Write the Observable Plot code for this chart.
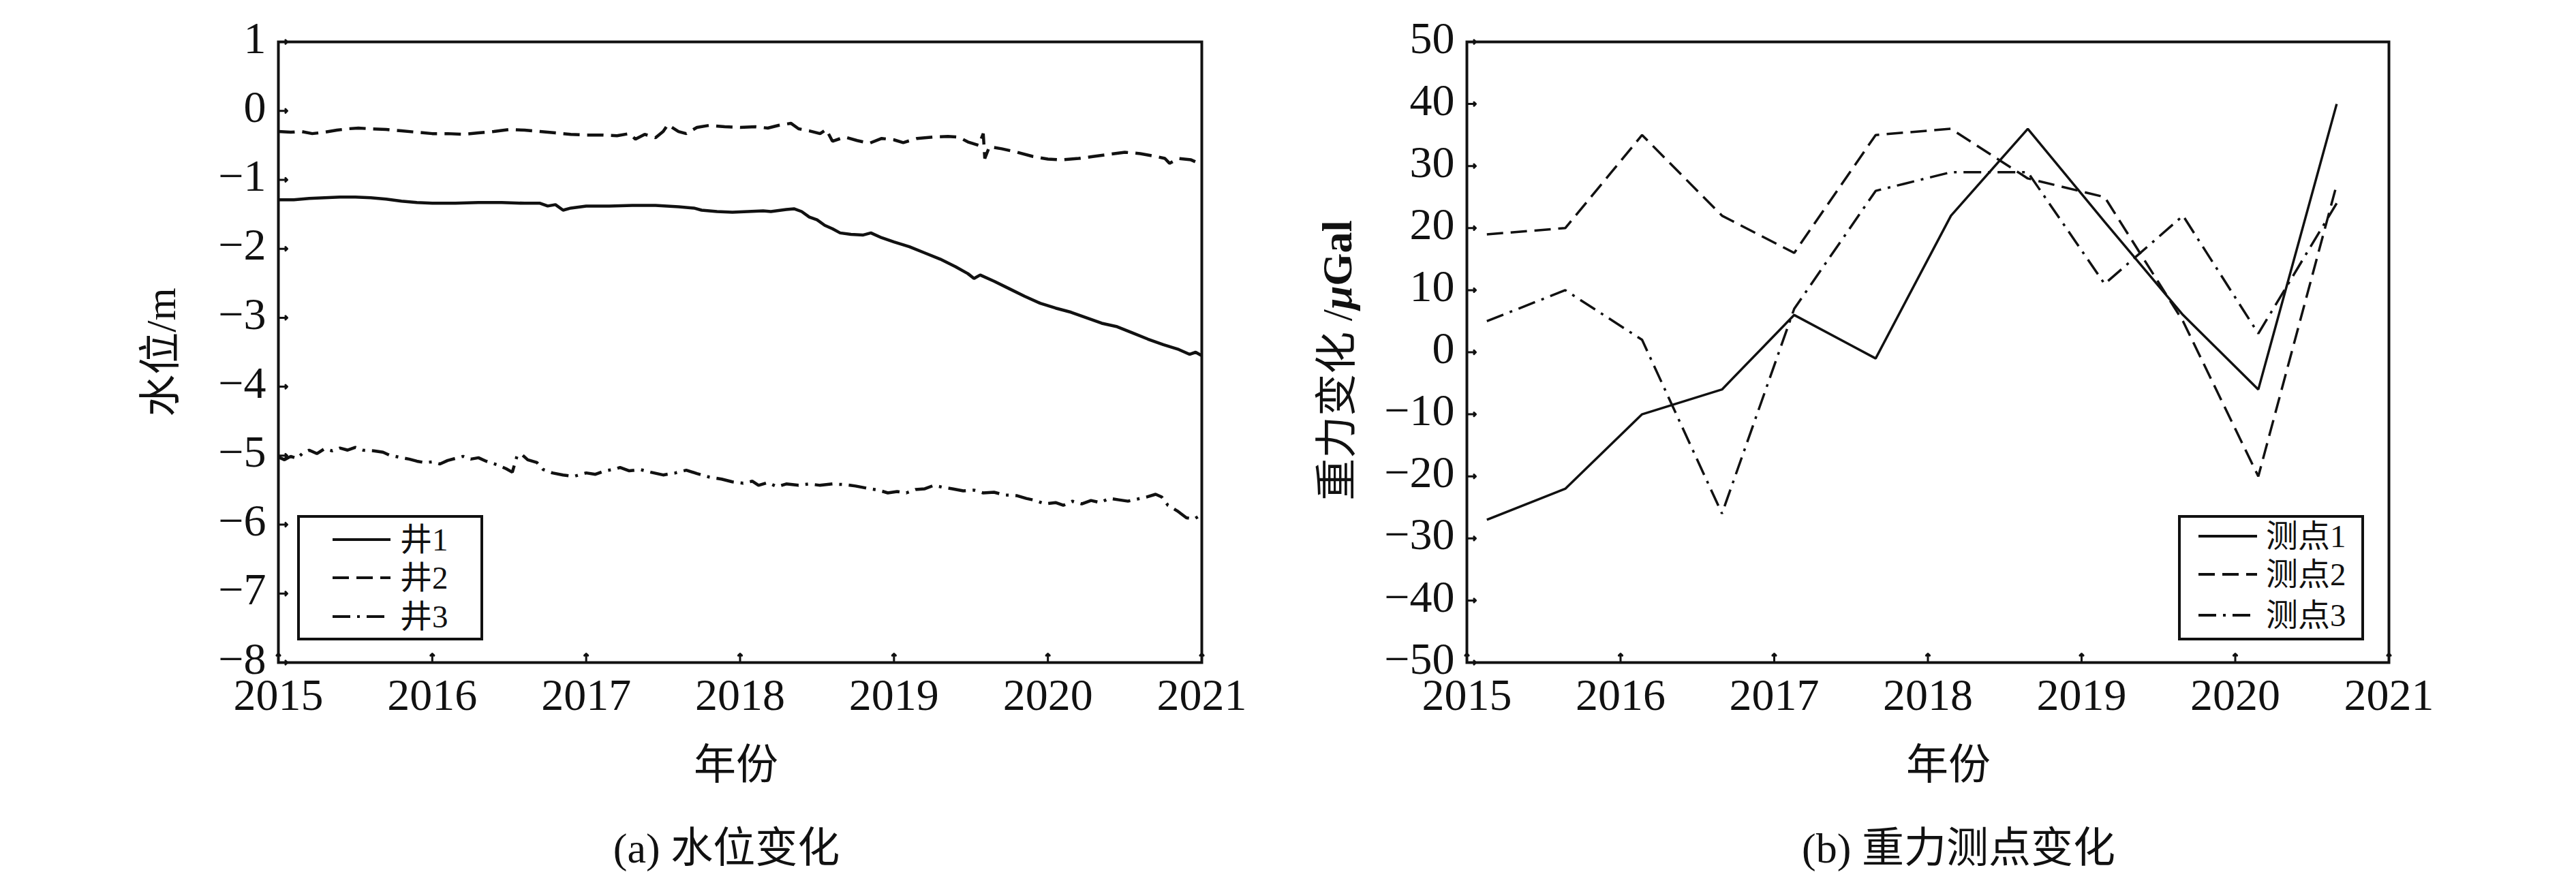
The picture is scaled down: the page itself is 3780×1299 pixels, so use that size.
<!DOCTYPE html>
<html><head><meta charset="utf-8">
<script src="https://cdn.jsdelivr.net/npm/d3@7"></script>
<script src="https://cdn.jsdelivr.net/npm/@observablehq/plot@0.6"></script>
<style>
body{margin:0;background:#fff;width:3780px;height:1299px;position:relative;overflow:hidden;font-family:"Liberation Serif","Noto Sans CJK SC",serif;color:#111;}
.panel{position:absolute;top:0;}
.caption{position:absolute;font-size:62px;white-space:nowrap;transform:translate(-50%,-50%);line-height:1;}
.legend{position:absolute;}
</style></head><body>
<div id="a" class="panel" style="left:0"></div>
<div id="b" class="panel" style="left:1890px"></div>
<div class="caption" style="left:1066px;top:1245px">(a) 水位变化</div>
<div class="caption" style="left:2874px;top:1245px">(b) 重力测点变化</div>
<script>
// ---------- data ----------
const years = [2015, 2016, 2017, 2018, 2019, 2020, 2021];
const levelTicks = [1, 0, -1, -2, -3, -4, -5, -6, -7, -8];
const gravityTicks = [50, 40, 30, 20, 10, 0, -10, -20, -30, -40, -50];
const wellNames = ["井1", "井2", "井3"];
const pointNames = ["测点1", "测点2", "测点3"];

// water level (m), [decimal year, level]
const well1 = [[2015.00,-1.29],[2015.10,-1.29],[2015.20,-1.27],[2015.30,-1.26],[2015.40,-1.25],[2015.50,-1.25],[2015.60,-1.26],[2015.70,-1.28],[2015.80,-1.31],[2015.90,-1.33],[2016.00,-1.34],[2016.15,-1.34],[2016.30,-1.33],[2016.45,-1.33],[2016.60,-1.34],[2016.70,-1.34],[2016.75,-1.38],[2016.80,-1.36],[2016.85,-1.44],[2016.90,-1.41],[2017.00,-1.38],[2017.15,-1.38],[2017.30,-1.37],[2017.45,-1.37],[2017.60,-1.39],[2017.70,-1.41],[2017.75,-1.44],[2017.85,-1.46],[2017.95,-1.47],[2018.05,-1.46],[2018.15,-1.45],[2018.20,-1.46],[2018.30,-1.43],[2018.35,-1.42],[2018.40,-1.46],[2018.45,-1.54],[2018.50,-1.58],[2018.55,-1.66],[2018.60,-1.71],[2018.65,-1.77],[2018.72,-1.79],[2018.80,-1.80],[2018.85,-1.77],[2018.92,-1.84],[2019.00,-1.90],[2019.10,-1.97],[2019.20,-2.06],[2019.30,-2.15],[2019.40,-2.26],[2019.48,-2.36],[2019.52,-2.43],[2019.56,-2.38],[2019.65,-2.47],[2019.75,-2.58],[2019.85,-2.69],[2019.95,-2.79],[2020.05,-2.86],[2020.15,-2.92],[2020.25,-3.00],[2020.35,-3.08],[2020.45,-3.13],[2020.55,-3.22],[2020.65,-3.31],[2020.75,-3.39],[2020.85,-3.46],[2020.92,-3.53],[2020.96,-3.50],[2021.00,-3.55]];
const well2 = [[2015.00,-0.30],[2015.08,-0.31],[2015.15,-0.30],[2015.22,-0.33],[2015.30,-0.31],[2015.38,-0.28],[2015.45,-0.26],[2015.52,-0.25],[2015.60,-0.26],[2015.70,-0.27],[2015.80,-0.29],[2015.90,-0.31],[2016.00,-0.33],[2016.10,-0.33],[2016.20,-0.34],[2016.30,-0.32],[2016.40,-0.30],[2016.50,-0.27],[2016.60,-0.28],[2016.70,-0.30],[2016.80,-0.32],[2016.90,-0.34],[2017.00,-0.35],[2017.10,-0.35],[2017.20,-0.36],[2017.28,-0.33],[2017.32,-0.41],[2017.38,-0.34],[2017.45,-0.39],[2017.50,-0.30],[2017.53,-0.20],[2017.60,-0.30],[2017.65,-0.33],[2017.72,-0.24],[2017.80,-0.21],[2017.90,-0.23],[2018.00,-0.24],[2018.10,-0.23],[2018.18,-0.25],[2018.25,-0.21],[2018.33,-0.18],[2018.38,-0.26],[2018.45,-0.29],[2018.52,-0.33],[2018.56,-0.27],[2018.60,-0.44],[2018.68,-0.38],[2018.76,-0.43],[2018.84,-0.47],[2018.92,-0.40],[2019.00,-0.42],[2019.06,-0.46],[2019.15,-0.40],[2019.25,-0.38],[2019.35,-0.37],[2019.42,-0.38],[2019.48,-0.45],[2019.55,-0.50],[2019.58,-0.33],[2019.59,-0.69],[2019.62,-0.52],[2019.70,-0.55],[2019.80,-0.60],[2019.90,-0.66],[2020.00,-0.70],[2020.08,-0.71],[2020.20,-0.69],[2020.30,-0.66],[2020.40,-0.63],[2020.50,-0.60],[2020.60,-0.62],[2020.70,-0.66],[2020.76,-0.69],[2020.79,-0.76],[2020.85,-0.69],[2020.93,-0.71],[2021.00,-0.78]];
const well3 = [[2015.00,-5.02],[2015.04,-5.06],[2015.08,-5.01],[2015.12,-5.04],[2015.16,-4.96],[2015.20,-4.92],[2015.25,-4.97],[2015.30,-4.90],[2015.35,-4.93],[2015.40,-4.89],[2015.45,-4.92],[2015.50,-4.88],[2015.55,-4.92],[2015.62,-4.93],[2015.68,-4.95],[2015.72,-4.99],[2015.78,-5.02],[2015.85,-5.05],[2015.90,-5.08],[2015.95,-5.10],[2016.00,-5.09],[2016.05,-5.12],[2016.10,-5.07],[2016.15,-5.04],[2016.20,-5.01],[2016.25,-5.05],[2016.30,-5.03],[2016.35,-5.08],[2016.42,-5.13],[2016.48,-5.19],[2016.52,-5.24],[2016.55,-5.01],[2016.58,-4.98],[2016.62,-5.06],[2016.68,-5.10],[2016.72,-5.20],[2016.78,-5.25],[2016.85,-5.28],[2016.92,-5.30],[2017.00,-5.25],[2017.06,-5.27],[2017.12,-5.22],[2017.18,-5.20],[2017.22,-5.17],[2017.28,-5.22],[2017.35,-5.20],[2017.42,-5.24],[2017.50,-5.28],[2017.58,-5.25],[2017.65,-5.21],[2017.72,-5.26],[2017.80,-5.31],[2017.88,-5.34],[2017.95,-5.38],[2018.02,-5.40],[2018.08,-5.37],[2018.12,-5.43],[2018.18,-5.39],[2018.24,-5.45],[2018.30,-5.41],[2018.38,-5.43],[2018.45,-5.41],[2018.52,-5.43],[2018.60,-5.41],[2018.68,-5.42],[2018.75,-5.44],[2018.82,-5.47],[2018.90,-5.50],[2018.96,-5.54],[2019.02,-5.52],[2019.08,-5.54],[2019.14,-5.49],[2019.20,-5.48],[2019.26,-5.43],[2019.32,-5.46],[2019.38,-5.48],[2019.45,-5.51],[2019.52,-5.50],[2019.58,-5.54],[2019.65,-5.53],[2019.72,-5.57],[2019.80,-5.58],[2019.86,-5.62],[2019.92,-5.65],[2019.98,-5.70],[2020.05,-5.68],[2020.10,-5.72],[2020.16,-5.66],[2020.22,-5.70],[2020.28,-5.65],[2020.34,-5.68],[2020.40,-5.62],[2020.46,-5.64],[2020.52,-5.66],[2020.58,-5.63],[2020.64,-5.60],[2020.70,-5.56],[2020.74,-5.60],[2020.78,-5.72],[2020.84,-5.80],[2020.90,-5.90],[2020.95,-5.92],[2021.00,-5.85]];

// gravity change (μGal) at survey epochs
const surveyEpochs = [2015.13, 2015.64, 2016.14, 2016.66, 2017.13, 2017.66, 2018.15, 2018.65, 2019.15, 2019.66, 2020.15, 2020.66];
const point1 = [-27, -22, -10, -6, 6, -1, 22, 36, 21, 6, -6, 40];
const point2 = [19, 20, 35, 22, 16, 35, 36, 28, 25, 5, -20, 27];
const point3 = [5, 10, 2, -26, 7, 26, 29, 29, 11, 22, 3, 24];

// ---------- helpers ----------
const FONT = '"Liberation Serif","Noto Sans CJK SC",serif';
const INK = "#111";
const dashes = ["none", "24,11", "26,10,4,10"];
const fmtMinus = d => d < 0 ? "\u2212" + Math.abs(d) : String(d);

const wellRows = [well1, well2, well3].flatMap((s, i) => s.map(([t, v]) => ({t, v, name: wellNames[i], k: i})));
const pointRows = [point1, point2, point3].flatMap((s, i) => s.map((v, j) => ({t: surveyEpochs[j], v, name: pointNames[i], k: i})));

function makePanel({rows, yDomain, yTicks, marginLeft, marginRight, ylabel, ylabelDx, ylabelDy, xlabelDx, lineWidth}) {
  const W = 1890, H = 1100, mt = 61, mb = 128;
  const lineMarks = [0, 1, 2].map(k => Plot.line(rows.filter(d => d.k === k), {
    x: "t", y: "v", stroke: INK, strokeWidth: lineWidth, strokeDasharray: dashes[k],
    strokeLinejoin: "miter", strokeLinecap: "butt"
  }));
  return Plot.plot({
    width: W, height: H, marginLeft, marginRight, marginTop: mt, marginBottom: mb,
    style: {fontFamily: FONT, fontSize: "66px", background: "white", color: INK, overflow: "visible"},
    x: {domain: [2015, 2021]},
    y: {domain: yDomain},
    marks: [
      ...lineMarks,
      Plot.axisX(years, {tickSize: 0, tickPadding: 23, tickFormat: d => String(d), fontSize: 66, label: null}),
      Plot.axisY(yTicks, {tickSize: 0, tickPadding: 18, dy: -5, tickFormat: fmtMinus, fontSize: 66, label: null}),
      Plot.vector(yTicks, {x: () => 2015, y: d => d, length: 13, rotate: 90, anchor: "start", stroke: INK, strokeWidth: 3}),
      Plot.vector(years, {x: d => d, y: () => yDomain[0], length: 13, rotate: 0, anchor: "start", stroke: INK, strokeWidth: 3}),
      Plot.frame({stroke: INK, strokeWidth: 4}),
      Plot.text([ylabel], {text: d => d, frameAnchor: "left", dx: ylabelDx, dy: ylabelDy, rotate: -90, fontSize: 62, textAnchor: "middle", lineAnchor: "middle"}),
      Plot.text(["年份"], {text: d => d, frameAnchor: "bottom", dx: xlabelDx, dy: 152, fontSize: 62, textAnchor: "middle", lineAnchor: "middle"})
    ]
  });
}

function makeLegend(names, box, lineX1, lineX2, textX, rowsY) {
  const svg = d3.create("svg").attr("width", box.w).attr("height", box.h)
    .style("position", "absolute").style("left", box.x + "px").style("top", box.y + "px").style("overflow", "visible");
  svg.append("rect").attr("x", 2).attr("y", 2).attr("width", box.w - 4).attr("height", box.h - 4)
    .attr("fill", "white").attr("stroke", INK).attr("stroke-width", 4);
  names.forEach((n, i) => {
    svg.append("line").attr("x1", lineX1).attr("x2", lineX2).attr("y1", rowsY[i]).attr("y2", rowsY[i])
      .attr("stroke", INK).attr("stroke-width", 4).attr("stroke-dasharray", dashes[i]);
    svg.append("text").attr("x", textX).attr("y", rowsY[i]).attr("dy", "0.35em")
      .attr("font-family", FONT).attr("font-size", 47).attr("fill", INK).text(n);
  });
  return svg.node();
}

const plotA = makePanel({rows: wellRows, yDomain: [-8, 1], yTicks: levelTicks, marginLeft: 408, marginRight: 127,
  ylabel: "水位/m", ylabelDx: -171, ylabelDy: 0, xlabelDx: -6, lineWidth: 4.5});
const plotB = makePanel({rows: pointRows, yDomain: [-50, 50], yTicks: gravityTicks, marginLeft: 262, marginRight: 275,
  ylabel: "重力变化 /μGal", ylabelDx: -189, ylabelDy: 12, xlabelDx: 30, lineWidth: 3.5});

// style the unit μGal: italic μ
d3.select(plotB).selectAll("text").filter(function() { return this.textContent === "重力变化 /μGal"; })
  .each(function() {
    const t = d3.select(this);
    t.text(null);
    t.append("tspan").text("重力变化 /");
    t.append("tspan").attr("font-style", "italic").attr("font-weight", "bold").text("μ");
    t.append("tspan").attr("font-weight", "bold").text("Gal");
  });

document.getElementById("a").append(plotA);
document.getElementById("b").append(plotB);

document.getElementById("a").append(makeLegend(wellNames, {x: 436, y: 756, w: 273, h: 184}, 52, 137, 151, [36, 92, 149]));
document.getElementById("b").append(makeLegend(pointNames, {x: 3196 - 1890, y: 756, w: 273, h: 184}, 30, 116, 129, [31, 87, 147]));
</script>
</body></html>
